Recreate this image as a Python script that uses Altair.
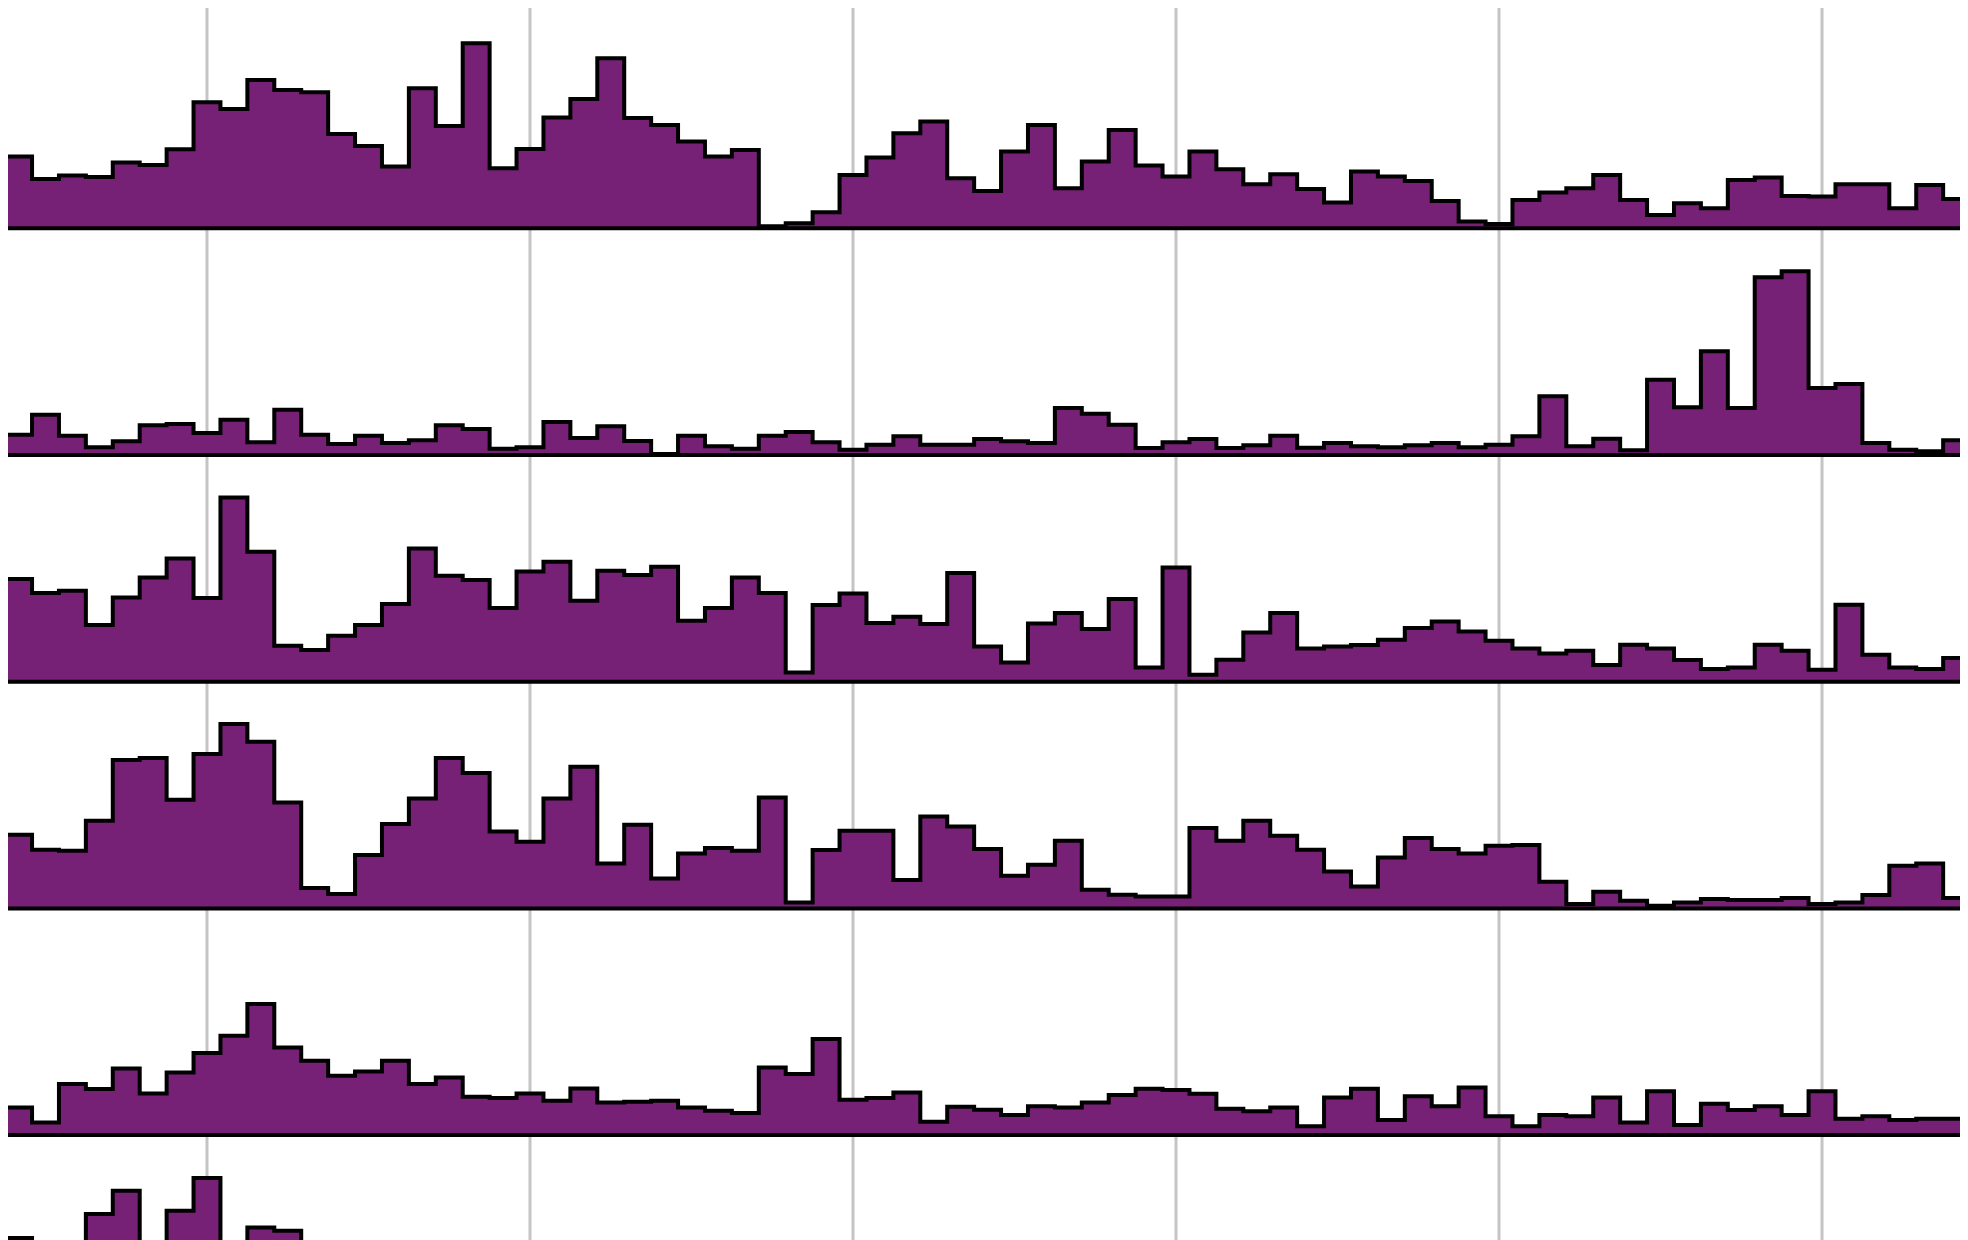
import altair as alt
import pandas as pd

# month index of every step (0 .. 74); gridlines mark every 12th month
grid_months = [8, 20, 32, 44, 56, 68]

series1 = [95.7, 71.7, 49.3, 52.7, 51.3, 65.7, 63.3, 79, 126, 119.3,
           148.3, 138.3, 136, 94.3, 82.3, 61.7, 140, 102.3, 185, 60,
           79.3, 110.7, 129.3, 170, 110.3, 103.3, 86.7, 71.7, 78.3, 2,
           5, 16, 53.3, 70.7, 95, 106.7, 50, 37.3, 76.7, 103.3,
           40, 66.7, 98.3, 62.7, 51.7, 76.7, 59, 44, 54, 39.3,
           25.7, 56.7, 51.7, 47.3, 27.3, 6.7, 4.3, 28.3, 35.7, 40,
           53.3, 28.3, 13.3, 25, 20, 48.3, 50.7, 32.3, 31.7, 44,
           44, 20, 43.3, 29.3, 29.3]

series2 = [33.7, 20.3, 40.3, 19.3, 7.7, 13.7, 29.7, 31, 22, 35.3,
           12.7, 45.3, 20.3, 11, 19.3, 12, 14.7, 29.7, 26, 6.3,
           7.7, 33, 17, 28.7, 14, 1, 19.3, 8.7, 6.3, 19.3,
           23, 12.7, 5.3, 10.3, 18.7, 10.3, 10.3, 16, 13.7, 12,
           47, 41.3, 30.3, 7, 12.7, 16, 7, 9.7, 19.3, 7.3,
           12, 8.7, 7.7, 9.7, 12, 7.7, 10.3, 18.7, 58.7, 8.7,
           16.3, 4.7, 75.3, 47.7, 103.7, 47, 177.7, 183.7, 67, 71,
           12, 5.3, 3.7, 14.7, 14.7]

series3 = [97.7, 102.7, 88.7, 91, 56.7, 84.3, 104.3, 123.3, 83.7, 184.3,
           130, 36, 31.7, 46, 56.7, 77.7, 133.3, 106, 101.7, 73.7,
           110.3, 120, 81, 111, 106.7, 115, 61, 73.7, 104.3, 88.7,
           9.3, 76.7, 88.3, 58.7, 65, 57.7, 108.7, 35.3, 19.3, 58.3,
           68.7, 52.7, 82.7, 14.3, 114.3, 7, 22, 49.3, 68.7, 33.3,
           35.3, 36.7, 42, 53.7, 60.3, 50.3, 41, 33.3, 28.3, 31,
           16.7, 37, 33.3, 21.7, 12.7, 14.3, 37, 31, 12, 77,
           27, 14.3, 12.7, 23.7, 23.7]

series4 = [116, 73.7, 58.7, 57.7, 87.7, 148.3, 150.3, 108.7, 154.3, 184.3,
           166.7, 106, 20.3, 14.3, 53.3, 84.3, 110, 150.3, 135.3, 77,
           66.7, 110, 141.7, 45, 83.7, 30, 55, 60.3, 57.7, 111,
           6, 58.3, 77.7, 77.7, 28.3, 92, 82, 59.3, 32.7, 43.7,
           67.7, 18.7, 13.7, 12, 12, 80.3, 67.7, 87.7, 72.7, 58.7,
           37, 22, 51, 70.3, 59.3, 55, 62.7, 63.3, 26.7, 4.3,
           16.7, 7.7, 2.7, 6, 9.3, 8.3, 8.3, 10.3, 4.3, 6,
           13.3, 42.7, 45, 10.3, 10.3]

series5 = [43.3, 27.7, 12.7, 51, 46, 66.7, 41.7, 62.7, 82, 99.3,
           131, 87.7, 74.3, 59.3, 63.7, 74.3, 51, 57.7, 38.3, 37,
           41.7, 34.3, 46.7, 32.7, 33.3, 34.3, 27.7, 24.3, 22, 67.7,
           61, 96, 35.3, 37, 42.7, 13.3, 28.3, 25.3, 20, 28.9,
           27.6, 32.6, 40.2, 46.4, 45.2, 41.4, 26.3, 23.8, 27.6, 8.8,
           37.6, 46.4, 15, 38.9, 28.9, 47.7, 18.8, 8.8, 20, 18.8,
           37.6, 12.5, 43.9, 10, 31.4, 25.1, 28.9, 20, 43.9, 16.3,
           18.8, 15, 16.3, 16.3, 16.3]

series6 = [135.3, 123.7, 100, 100, 147.7, 171, 100, 151, 183.7, 100,
           134.3, 131, 90]

all_series = [series1, series2, series3, series4, series5, series6]

records = []
for s, vals in enumerate(all_series):
    for m, v in enumerate(vals):
        records.append({"series": s, "month": m, "value": v})
df = pd.DataFrame(records)
bases = pd.DataFrame({"series": list(range(len(all_series)))})
grid_df = pd.DataFrame({"month": grid_months})

PURPLE = "#762175"
W, H = 1952, 1232

x_scale = alt.Scale(domain=[0.607, 73.126], zero=False, nice=False)
y_scale = alt.Scale(domain=[8 + H, 8], zero=False, nice=False)

base_calc = "228.3 + 226.7 * datum.series"

gridlines = alt.Chart(grid_df).mark_rule(
    color="#c4c4c4", strokeWidth=3, clip=True
).encode(
    x=alt.X("month:Q", scale=x_scale, axis=None),
)

areas = alt.Chart(df).transform_calculate(
    base=base_calc
).transform_calculate(
    top="datum.base - datum.value"
).mark_area(interpolate="step", color=PURPLE, clip=True).encode(
    x=alt.X("month:Q", scale=x_scale, axis=None),
    y=alt.Y("top:Q", scale=y_scale, axis=None),
    y2="base:Q",
    detail="series:N",
)

lines = alt.Chart(df).transform_calculate(
    base=base_calc
).transform_calculate(
    top="datum.base - datum.value"
).mark_line(interpolate="step", color="black", strokeWidth=4,
            strokeJoin="miter", clip=True).encode(
    x=alt.X("month:Q", scale=x_scale, axis=None),
    y=alt.Y("top:Q", scale=y_scale, axis=None),
    detail="series:N",
)

baselines = alt.Chart(bases).transform_calculate(
    base=base_calc
).mark_rule(color="black", strokeWidth=4, clip=True).encode(
    y=alt.Y("base:Q", scale=y_scale, axis=None),
)

chart = alt.layer(gridlines, areas, lines, baselines).properties(
    width=W, height=H,
    autosize=alt.AutoSizeParams(type="none"),
    padding=0,
    background="white",
).configure_view(stroke=None)

chart.save("out.html", embed_options={"renderer": "svg", "actions": False})
